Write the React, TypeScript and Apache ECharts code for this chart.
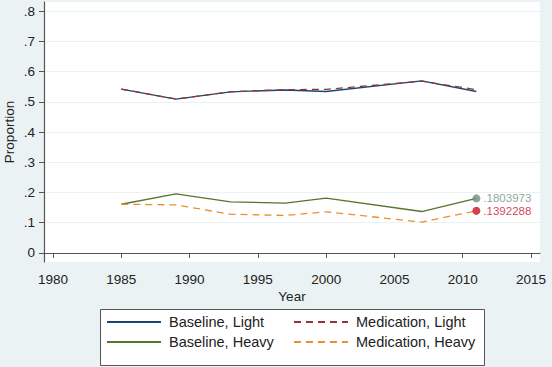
import React, { useEffect, useRef } from "react";
import * as echarts from "echarts";

const years = [1985, 1989, 1993, 1997, 2000, 2007, 2011];
const baselineLight = [0.542, 0.509, 0.533, 0.539, 0.534, 0.569, 0.534];
const medicationLight = [0.542, 0.509, 0.533, 0.540, 0.541, 0.568, 0.540];
const baselineHeavy = [0.161, 0.195, 0.169, 0.165, 0.181, 0.137, 0.1803973];
const medicationHeavy = [0.161, 0.159, 0.128, 0.124, 0.136, 0.102, 0.1392288];
const xTicks = [1980, 1985, 1990, 1995, 2000, 2005, 2010, 2015];
const yTicks = [0, 0.1, 0.2, 0.3, 0.4, 0.5, 0.6, 0.7, 0.8];
const endLabels = [
  { name: "Baseline, Heavy end", value: 0.1803973, color: "#6f8f82" },
  { name: "Medication, Heavy end", value: 0.1392288, color: "#c8102e" },
];

const FONT = "'Liberation Sans', Arial, sans-serif";

export default function App() {
  const ref = useRef<HTMLDivElement>(null);
  useEffect(() => {
    if (!ref.current) return;
    const chart = echarts.init(ref.current, undefined, { renderer: "svg" });
    const pairs = (vals: number[]) => years.map((y, i) => [y, vals[i]]);
    const lineSeries = (name: string, vals: number[], color: string, dashed: boolean) => ({
      name,
      type: "line",
      data: pairs(vals),
      symbol: "none",
      showSymbol: false,
      lineStyle: { color, width: 1.3, type: dashed ? [7, 5] : "solid" },
      itemStyle: { color },
      z: 2,
    });
    const legendCommon = {
      orient: "vertical",
      top: 314.5,
      padding: 0,
      itemWidth: 54,
      itemHeight: 14,
      itemGap: 5,
      itemStyle: { opacity: 0, borderWidth: 0 },
      textStyle: { fontSize: 14.5, color: "#222", fontFamily: FONT, padding: [0, 0, 0, 3] },
    };
    const lastYear = years[years.length - 1];
    chart.setOption({
      animation: false,
      backgroundColor: "#eaf2f3",
      textStyle: { fontFamily: FONT },
      grid: {
        left: 44,
        right: 12,
        top: 2,
        bottom: 105,
        show: true,
        backgroundColor: "#ffffff",
        borderWidth: 0,
        containLabel: false,
        outerBoundsMode: "none",
      },
      xAxis: {
        type: "value",
        min: 1979.34,
        max: 2015.66,
        name: "Year",
        nameLocation: "middle",
        nameGap: 27,
        nameMoveOverlap: false,
        nameTextStyle: { fontSize: 13.5, color: "#222", fontFamily: FONT },
        axisLine: { show: true, lineStyle: { color: "#555", width: 1.2 } },
        axisTick: { show: true, length: 5, lineStyle: { color: "#555" }, customValues: xTicks },
        axisLabel: {
          customValues: xTicks,
          fontSize: 13.5,
          color: "#222",
          margin: 10,
          fontFamily: FONT,
          formatter: (v: number) => String(Math.round(v)),
        },
        splitLine: { show: false },
      },
      yAxis: {
        type: "value",
        min: -0.03,
        max: 0.83,
        name: "Proportion",
        nameLocation: "middle",
        nameGap: 28,
        nameRotate: 90,
        nameMoveOverlap: false,
        nameTextStyle: { fontSize: 13.5, color: "#222", fontFamily: FONT },
        axisLine: { show: true, lineStyle: { color: "#555", width: 1.2 } },
        axisTick: { show: true, length: 5, lineStyle: { color: "#555" }, customValues: yTicks },
        axisLabel: {
          customValues: yTicks,
          fontSize: 13.5,
          color: "#222",
          margin: 9,
          fontFamily: FONT,
          formatter: (v: number) => (v === 0 ? "0" : String(Math.round(v * 10) / 10).replace(/^0/, "")),
        },
        splitLine: { show: true, lineStyle: { color: "#eaf2f3", width: 1.2 } },
      },
      legend: [
        { ...legendCommon, data: ["Baseline, Light", "Baseline, Heavy"], left: 106 },
        { ...legendCommon, data: ["Medication, Light", "Medication, Heavy"], left: 293 },
      ],
      graphic: [
        {
          type: "rect",
          left: 100,
          top: 309,
          shape: { width: 384, height: 56 },
          style: { fill: "#ffffff", stroke: "#555", lineWidth: 1 },
          z: -1,
        },
      ],
      series: [
        lineSeries("Baseline, Light", baselineLight, "#1a476f", false),
        lineSeries("Medication, Light", medicationLight, "#90353b", true),
        lineSeries("Baseline, Heavy", baselineHeavy, "#55752f", false),
        lineSeries("Medication, Heavy", medicationHeavy, "#ec8f2a", true),
        ...endLabels.map((e) => ({
          name: e.name,
          type: "scatter",
          data: [[lastYear, e.value]],
          symbol: "circle",
          symbolSize: 8,
          itemStyle: { color: e.color },
          z: 5,
          label: {
            show: true,
            position: "right",
            distance: 3,
            color: e.color,
            fontSize: 11.5,
            fontFamily: FONT,
            formatter: () => String(e.value).replace(/^0/, ""),
          },
        })),
      ],
    });
    return () => chart.dispose();
  }, []);
  return <div ref={ref} style={{ width: 552, height: 367, position: "absolute", left: 0, top: 0 }} />;
}
